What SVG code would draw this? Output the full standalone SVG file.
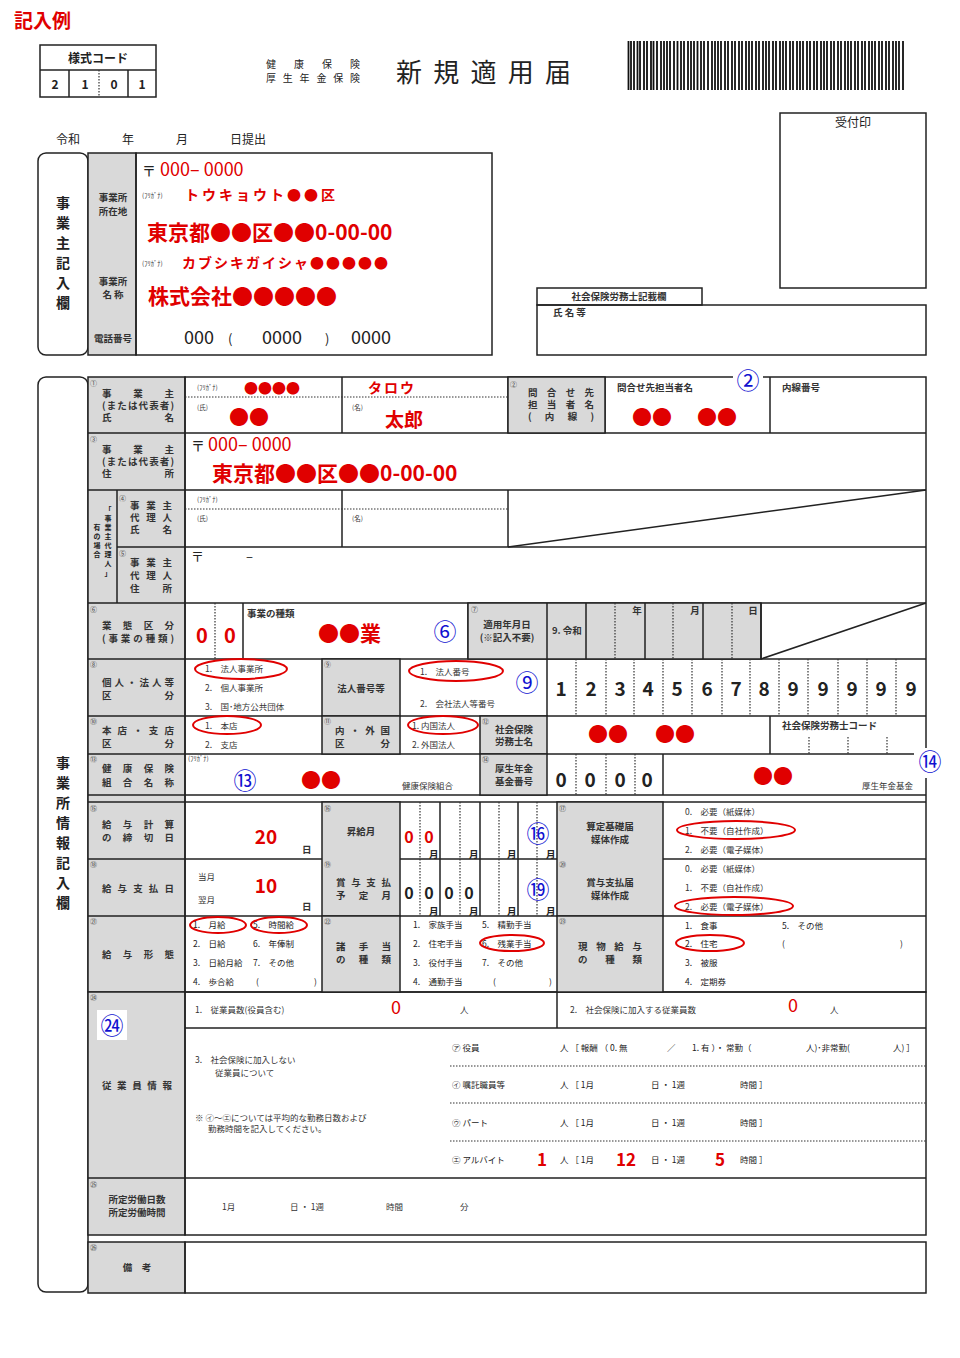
<svg xmlns="http://www.w3.org/2000/svg" width="960" height="1358" viewBox="0 0 960 1358">
<style>
text{font-family:"Noto Sans CJK JP","Noto Sans",sans-serif;fill:#222}
.l{font-size:9.5px;font-weight:bold;fill:#333}
.m{text-anchor:middle}
.n{font-size:7px;fill:#444}
.s{font-size:6.5px;fill:#333}
.o{font-size:8.5px;fill:#333}
.r{fill:#e00000;font-weight:bold}
.rr{fill:#e00000}
.b{fill:#1010d0;font-size:23px;text-anchor:middle}
.g{fill:#d9d9d9;stroke:#222;stroke-width:1.5}
.w{fill:#fff;stroke:#222;stroke-width:1.5}
.k{fill:none;stroke:#222;stroke-width:1.5}
.d{stroke:#333;stroke-width:1.2;stroke-dasharray:1.5 1.5;fill:none}
.e{fill:none;stroke:#e00000;stroke-width:2}
</style>
<rect width="960" height="1358" fill="#fff"/>
<text x="14" y="28" font-size="19" class="r">記入例</text>
<g id="code">
<rect x="40" y="45" width="116" height="52" class="k"/>
<line x1="40" y1="70" x2="156" y2="70" class="k"/>
<line x1="69" y1="70" x2="69" y2="97" class="k"/>
<line x1="128" y1="70" x2="128" y2="97" class="k"/>
<line x1="99" y1="70" x2="99" y2="97" class="d"/>
<text x="98" y="63" class="m" font-size="12" font-weight="bold">様式コード</text>
<text x="55" y="89" class="m" font-size="12" font-weight="bold">2</text>
<text x="85" y="89" class="m" font-size="12" font-weight="bold">1</text>
<text x="114" y="89" class="m" font-size="12" font-weight="bold">0</text>
<text x="142" y="89" class="m" font-size="12" font-weight="bold">1</text>
</g>
<text x="266" y="68" font-size="10" textLength="94" lengthAdjust="spacing">健康保険</text>
<text x="266" y="82" font-size="10" textLength="94" lengthAdjust="spacing">厚生年金保険</text>
<text x="396" y="82" font-size="26" textLength="175" lengthAdjust="spacing">新規適用届</text>
<path stroke="#111" fill="none" d="M628.5 41v49M631 41v49M634 41v49M637.5 41v49M640 41v49M644 41v49M647 41v49M651 41v49M653.5 41v49M657 41v49M661 41v49M664 41v49M667 41v49M670 41v49M674 41v49M677.5 41v49M681 41v49M684 41v49M688 41v49M691 41v49M694 41v49M697.5 41v49M701 41v49M704 41v49M708 41v49M712 41v49M715 41v49M718 41v49M721 41v49M725 41v49M728 41v49M732 41v49M735 41v49M739 41v49M742 41v49M746 41v49M749 41v49M752 41v49M756 41v49M759 41v49M763 41v49M766 41v49M769 41v49M773 41v49M776 41v49M780 41v49M783 41v49M786 41v49M790 41v49M793 41v49M797 41v49M800 41v49M803 41v49M807 41v49M810 41v49M814 41v49M817 41v49M821 41v49M824 41v49M827 41v49M831 41v49M834 41v49M838 41v49M841 41v49M845 41v49M848 41v49M851 41v49M855 41v49M858 41v49M862 41v49M865 41v49M869 41v49M872 41v49M875 41v49M879 41v49M882 41v49M886 41v49M889 41v49M893 41v49M896 41v49M899 41v49M903 41v49" stroke-width="1.8"/>
<text x="56" y="144" font-size="12">令和</text>
<text x="122" y="144" font-size="12">年</text>
<text x="176" y="144" font-size="12">月</text>
<text x="230" y="144" font-size="12">日提出</text>
<g id="stamp"><rect x="780" y="113" width="146" height="175" class="k"/><text x="853" y="127" class="m" font-size="12">受付印</text></g>
<g id="sharoushi">
<rect x="537" y="288" width="165" height="17" class="k"/><text x="619" y="300" class="m l" font-size="9">社会保険労務士記載欄</text>
<rect x="537" y="305" width="389" height="50" class="k"/><text x="553" y="316" class="l" font-size="9">氏 名 等</text>
</g>
<g id="employer">
<rect x="38" y="153" width="50" height="202" rx="8" class="k"/>
<rect x="88" y="153" width="48" height="202" class="g"/>
<rect x="136" y="153" width="356" height="202" class="k"/>
<g font-size="14" font-weight="bold" text-anchor="middle"><text x="63" y="208">事</text><text x="63" y="228">業</text><text x="63" y="248">主</text><text x="63" y="268">記</text><text x="63" y="288">入</text><text x="63" y="308">欄</text></g>
<text x="113" y="201" class="l m">事業所</text><text x="113" y="215" class="l m">所在地</text>
<text x="113" y="285" class="l m">事業所</text><text x="113" y="298" class="l m">名 称</text>
<text x="113" y="342" class="l m" font-size="9">電話番号</text>
<text x="142" y="176" font-size="14">〒</text><text x="160" y="176" font-size="18" class="rr">000–  0000</text>
<text x="142" y="198" class="s">(ﾌﾘｶﾞﾅ)</text><text x="185" y="200" font-size="14" class="r" letter-spacing="3">トウキョウト●●区</text>
<text x="147" y="240" font-size="21" class="r">東京都●●区●●0-00-00</text>
<text x="142" y="266" class="s">(ﾌﾘｶﾞﾅ)</text><text x="182" y="268" font-size="14" class="r" letter-spacing="2">カブシキガイシャ●●●●●</text>
<text x="148" y="304" font-size="21" class="r">株式会社●●●●●</text>
<g font-size="18" class="rr"><text x="184" y="344">000</text><text x="228" y="344" font-size="13">(</text><text x="262" y="344">0000</text><text x="325" y="344" font-size="13">)</text><text x="351" y="344">0000</text></g>
</g>
<g id="main-frame">
<rect x="38" y="377" width="50" height="915" rx="8" class="k"/>
<g font-size="14" font-weight="bold" text-anchor="middle"><text x="63" y="768">事</text><text x="63" y="788">業</text><text x="63" y="808">所</text><text x="63" y="828">情</text><text x="63" y="848">報</text><text x="63" y="868">記</text><text x="63" y="888">入</text><text x="63" y="908">欄</text></g>
<rect x="88" y="377" width="97" height="615" class="g"/>
<rect x="88" y="992" width="97" height="243" class="g"/>
<rect x="88" y="1242" width="97" height="51" class="g"/>
<rect x="185" y="377" width="741" height="615" class="k"/>
<rect x="185" y="992" width="741" height="243" class="k"/>
<rect x="185" y="1242" width="741" height="51" class="k"/>
<path class="k" d="M88 433H926M88 490H926M117 547H926M88 603H926M88 659H926M88 716H926M88 754H926M88 795H926M88 802H926M88 859H926M88 916H926M185 1028H926M88 1178H926"/>
</g>
<g id="row1">
<path class="k" d="M342 377V433M508 377V433M605 377V433M770 377V433"/>
<rect x="508" y="377" width="97" height="56" class="g"/>
<path class="d" d="M185 397H508"/>
<text x="90" y="386" class="n">①</text>
<text x="102" y="397" class="l" textLength="72" lengthAdjust="spacing">事業主</text>
<text x="102" y="409" class="l" font-size="8.5" textLength="72" lengthAdjust="spacing">(または代表者)</text>
<text x="102" y="421" class="l" textLength="72" lengthAdjust="spacing">氏　　　名</text>
<text x="197" y="390" class="s">(ﾌﾘｶﾞﾅ)</text><text x="244" y="393" font-size="14" class="rr">●●●●</text>
<text x="368" y="393" font-size="14" class="r" letter-spacing="2">タロウ</text>
<text x="197" y="410" class="s">(氏)</text><text x="229" y="425" font-size="20" class="rr">●●</text>
<text x="352" y="410" class="s">(名)</text><text x="385" y="427" font-size="19" class="r">太郎</text>
<text x="510" y="387" class="n">②</text>
<text x="528" y="396" class="l" textLength="66" lengthAdjust="spacing">問合せ先</text>
<text x="528" y="408" class="l" textLength="66" lengthAdjust="spacing">担当者名</text>
<text x="528" y="420" class="l" textLength="66" lengthAdjust="spacing">(内線)</text>
<text x="617" y="391" class="l">問合せ先担当者名</text>
<text x="632" y="425" font-size="20" class="rr">●●</text><text x="697" y="425" font-size="20" class="rr">●●</text>
<rect x="733" y="372" width="30" height="10" fill="#fff"/>
<text x="748" y="389" class="b">②</text>
<text x="782" y="391" class="l">内線番号</text>
</g>
<g id="row3">
<text x="90" y="442" class="n">③</text>
<text x="102" y="453" class="l" textLength="72" lengthAdjust="spacing">事業主</text>
<text x="102" y="465" class="l" font-size="8.5" textLength="72" lengthAdjust="spacing">(または代表者)</text>
<text x="102" y="477" class="l" textLength="72" lengthAdjust="spacing">住　　　所</text>
<text x="191" y="451" font-size="14">〒</text><text x="208" y="451" font-size="18" class="rr">000–  0000</text>
<text x="212" y="481" font-size="21" class="r">東京都●●区●●0-00-00</text>
</g>
<g id="row4-5">
<path class="k" d="M117 490V603M342 490V547M508 490V547M508 547L926 490"/>
<path class="d" d="M185 509H508"/>
<g class="n" text-anchor="middle" font-size="7" font-weight="bold"><text x="108" y="512">「</text><text x="108" y="521">事</text><text x="108" y="530">業</text><text x="108" y="539">主</text><text x="108" y="548">代</text><text x="108" y="557">理</text><text x="108" y="566">人</text><text x="108" y="576">」</text><text x="97" y="530">有</text><text x="97" y="539">の</text><text x="97" y="548">場</text><text x="97" y="557">合</text></g>
<text x="119" y="501" class="n">④</text>
<text x="130" y="509" class="l" textLength="42" lengthAdjust="spacing">事業主</text>
<text x="130" y="521" class="l" textLength="42" lengthAdjust="spacing">代理人</text>
<text x="130" y="533" class="l" textLength="42" lengthAdjust="spacing">氏　名</text>
<text x="119" y="556" class="n">⑤</text>
<text x="130" y="566" class="l" textLength="42" lengthAdjust="spacing">事業主</text>
<text x="130" y="579" class="l" textLength="42" lengthAdjust="spacing">代理人</text>
<text x="130" y="592" class="l" textLength="42" lengthAdjust="spacing">住　所</text>
<text x="197" y="502" class="s">(ﾌﾘｶﾞﾅ)</text><text x="197" y="521" class="s">(氏)</text><text x="352" y="521" class="s">(名)</text>
<text x="191" y="561" font-size="13">〒</text><text x="246" y="561" font-size="13">–</text>
</g>
<g id="row6">
<path class="k" d="M243 603V659M468 603V659"/><path class="d" d="M215 603V659"/>
<rect x="468" y="603" width="293" height="56" class="g"/>
<path class="k" d="M547 603V659M586 603V659M645 603V659M703 603V659M761 603V659M761 659L926 603"/>
<path class="d" d="M615 603V659M673 603V659M732 603V659"/>
<text x="90" y="612" class="n">⑥</text>
<text x="102" y="629" class="l" textLength="72" lengthAdjust="spacing">業態区分</text>
<text x="102" y="642" class="l" font-size="8.5" textLength="72" lengthAdjust="spacing">(事業の種類)</text>
<text x="202" y="643" font-size="20" class="r m">0</text><text x="230" y="643" font-size="20" class="r m">0</text>
<text x="247" y="617" class="l">事業の種類</text>
<text x="318" y="641" font-size="21" class="r">●●業</text>
<text x="445" y="640" class="b">⑥</text>
<text x="471" y="612" class="n">⑦</text>
<text x="507" y="628" class="l m">適用年月日</text><text x="507" y="641" class="l m">(※記入不要)</text>
<text x="552" y="634" class="l" font-size="7.5">9. 令和</text>
<text x="637" y="614" class="l m">年</text><text x="695" y="614" class="l m">月</text><text x="753" y="614" class="l m">日</text>
</g>
<g id="row8">
<rect x="322" y="659" width="78" height="57" class="g"/>
<path class="k" d="M547 659V716"/>
<path class="d" d="M576 659V716M606 659V716M634 659V716M663 659V716M692 659V716M722 659V716M750 659V716M779 659V716M808 659V716M838 659V716M867 659V716M896 659V716"/>
<text x="90" y="667" class="n">⑧</text>
<text x="102" y="686" class="l" textLength="72" lengthAdjust="spacing">個人・法人等</text>
<text x="102" y="699" class="l" textLength="72" lengthAdjust="spacing">区　　　分</text>
<text x="205" y="672" class="o">1.　法人事業所</text><text x="205" y="691" class="o">2.　個人事業所</text><text x="205" y="710" class="o">3.　国･地方公共団体</text>
<text x="324" y="667" class="n">⑨</text><text x="361" y="692" class="l m">法人番号等</text>
<text x="420" y="675" class="o">1.　法人番号</text><text x="420" y="707" class="o">2.　会社法人等番号</text>
<text x="527" y="691" class="b">⑨</text>
<g font-size="19" class="r" text-anchor="middle"><text x="561" y="696">1</text><text x="591" y="696">2</text><text x="620" y="696">3</text><text x="648" y="696">4</text><text x="677" y="696">5</text><text x="707" y="696">6</text><text x="736" y="696">7</text><text x="764" y="696">8</text><text x="793" y="696">9</text><text x="823" y="696">9</text><text x="852" y="696">9</text><text x="881" y="696">9</text><text x="911" y="696">9</text></g>
<ellipse cx="241" cy="669" rx="46" ry="10" class="e"/><ellipse cx="456" cy="671" rx="47" ry="10" class="e"/>
</g>
<g id="row10">
<rect x="322" y="716" width="78" height="38" class="g"/><rect x="480" y="716" width="67" height="38" class="g"/>
<path class="k" d="M770 716V754"/>
<path class="d" d="M809 737V754M848 737V754M887 737V754"/>
<text x="90" y="724" class="n">⑩</text>
<text x="102" y="734" class="l" textLength="72" lengthAdjust="spacing">本店・支店</text>
<text x="102" y="747" class="l" textLength="72" lengthAdjust="spacing">区　　　分</text>
<text x="205" y="729" class="o">1.　本店</text><text x="205" y="748" class="o">2.　支店</text>
<text x="324" y="724" class="n">⑪</text>
<text x="335" y="734" class="l" textLength="55" lengthAdjust="spacing">内・外国</text>
<text x="335" y="747" class="l" textLength="55" lengthAdjust="spacing">区　分</text>
<text x="412" y="729" class="o">1. 内国法人</text><text x="412" y="748" class="o">2. 外国法人</text>
<text x="482" y="724" class="n">⑫</text>
<text x="514" y="733" class="l m" font-size="9">社会保険</text><text x="514" y="745" class="l m" font-size="9">労務士名</text>
<text x="588" y="742" font-size="20" class="rr">●●</text><text x="655" y="742" font-size="20" class="rr">●●</text>
<text x="782" y="729" class="l" font-size="9">社会保険労務士コード</text>
<ellipse cx="227" cy="725" rx="34" ry="9" class="e"/><ellipse cx="443" cy="725" rx="35" ry="9" class="e"/>
</g>
<g id="row13">
<rect x="480" y="754" width="67" height="41" class="g"/>
<path class="k" d="M663 754V795"/>
<path class="d" d="M576 754V795M606 754V795M635 754V795"/>
<rect x="914" y="748" width="14" height="30" fill="#fff"/>
<text x="90" y="762" class="n">⑬</text>
<text x="102" y="772" class="l" textLength="72" lengthAdjust="spacing">健康保険</text>
<text x="102" y="786" class="l" textLength="72" lengthAdjust="spacing">組合名称</text>
<text x="188" y="761" class="s">(ﾌﾘｶﾞﾅ)</text>
<text x="245" y="789" class="b">⑬</text>
<text x="301" y="788" font-size="20" class="rr">●●</text>
<text x="402" y="789" class="o">健康保険組合</text>
<text x="482" y="762" class="n">⑭</text>
<text x="514" y="772" class="l m" font-size="9">厚生年金</text><text x="514" y="785" class="l m" font-size="9">基金番号</text>
<g font-size="19" class="r" text-anchor="middle"><text x="561" y="787">0</text><text x="590" y="787">0</text><text x="620" y="787">0</text><text x="647" y="787">0</text></g>
<text x="753" y="784" font-size="20" class="rr">●●</text>
<text x="862" y="789" class="o">厚生年金基金</text>
<text x="930" y="770" class="b">⑭</text>
</g>
<g id="row15-18">
<rect x="322" y="802" width="78" height="114" class="g"/><rect x="557" y="802" width="106" height="114" class="g"/>
<path class="k" d="M440 802V916M480 802V916M518 802V916"/>
<path class="d" d="M420 802V916M460 802V916M499 802V916M537 802V916"/>
<text x="90" y="811" class="n">⑮</text>
<text x="102" y="828" class="l" textLength="72" lengthAdjust="spacing">給与計算</text>
<text x="102" y="841" class="l" textLength="72" lengthAdjust="spacing">の締切日</text>
<text x="266" y="844" font-size="19" class="r m">20</text><text x="302" y="853" class="l">日</text>
<text x="324" y="811" class="n">⑯</text><text x="361" y="835" class="l m">昇給月</text>
<text x="409" y="843" font-size="16" class="r m">0</text><text x="429" y="843" font-size="16" class="r m">0</text>
<g class="l" font-size="7.5"><text x="429" y="858">月</text><text x="469" y="858">月</text><text x="507" y="858">月</text><text x="546" y="858">月</text><text x="429" y="915">月</text><text x="469" y="915">月</text><text x="507" y="915">月</text><text x="546" y="915">月</text></g>
<text x="538" y="842" class="b">⑯</text>
<text x="559" y="811" class="n">⑰</text>
<text x="610" y="830" class="l m">算定基礎届</text><text x="610" y="843" class="l m">媒体作成</text>
<text x="685" y="815" class="o">0.　必要（紙媒体）</text><text x="685" y="834" class="o">1.　不要（自社作成）</text><text x="685" y="853" class="o">2.　必要（電子媒体）</text>
<text x="90" y="867" class="n">⑱</text>
<text x="102" y="892" class="l" textLength="72" lengthAdjust="spacing">給与支払日</text>
<text x="198" y="880" class="o">当月</text><text x="198" y="903" class="o">翌月</text>
<text x="266" y="893" font-size="19" class="r m">10</text><text x="302" y="910" class="l">日</text>
<text x="324" y="867" class="n">⑲</text>
<text x="336" y="886" class="l" textLength="55" lengthAdjust="spacing">賞与支払</text>
<text x="336" y="899" class="l" textLength="55" lengthAdjust="spacing">予　定　月</text>
<g font-size="16" class="r" text-anchor="middle"><text x="409" y="899">0</text><text x="429" y="899">0</text><text x="449" y="899">0</text><text x="469" y="899">0</text></g>
<text x="538" y="898" class="b">⑲</text>
<text x="559" y="867" class="n">⑳</text>
<text x="610" y="886" class="l m">賞与支払届</text><text x="610" y="899" class="l m">媒体作成</text>
<text x="685" y="872" class="o">0.　必要（紙媒体）</text><text x="685" y="891" class="o">1.　不要（自社作成）</text><text x="685" y="910" class="o">2.　必要（電子媒体）</text>
<ellipse cx="736" cy="830" rx="59" ry="9" class="e"/><ellipse cx="734" cy="906" rx="59" ry="9" class="e"/>
</g>
<g id="row21">
<rect x="322" y="916" width="78" height="76" class="g"/><rect x="557" y="916" width="106" height="76" class="g"/>
<text x="90" y="924" class="n">㉑</text>
<text x="102" y="958" class="l" textLength="72" lengthAdjust="spacing">給与形態</text>
<g class="o" font-size="8"><text x="193" y="928">1.　月給</text><text x="193" y="947">2.　日給</text><text x="193" y="966">3.　日給月給</text><text x="193" y="985">4.　歩合給</text>
<text x="253" y="928">5.　時間給</text><text x="253" y="947">6.　年俸制</text><text x="253" y="966">7.　その他</text><text x="256" y="985">(</text><text x="314" y="985">)</text>
<text x="413" y="928">1.　家族手当</text><text x="413" y="947">2.　住宅手当</text><text x="413" y="966">3.　役付手当</text><text x="413" y="985">4.　通勤手当</text>
<text x="482" y="928">5.　精勤手当</text><text x="482" y="947">6.　残業手当</text><text x="482" y="966">7.　その他</text><text x="493" y="985">(</text><text x="549" y="985">)</text>
<text x="685" y="929">1.　食事</text><text x="685" y="947">2.　住宅</text><text x="685" y="966">3.　被服</text><text x="685" y="985">4.　定期券</text>
<text x="782" y="929">5.　その他</text><text x="782" y="947">(</text><text x="900" y="947">)</text></g>
<text x="324" y="924" class="n">㉒</text>
<text x="336" y="950" class="l" textLength="55" lengthAdjust="spacing">諸手当</text>
<text x="336" y="963" class="l" textLength="55" lengthAdjust="spacing">の種類</text>
<text x="559" y="924" class="n">㉓</text>
<text x="578" y="950" class="l" textLength="64" lengthAdjust="spacing">現物給与</text>
<text x="578" y="963" class="l" textLength="64" lengthAdjust="spacing">の　種　類</text>
<ellipse cx="218" cy="925" rx="28" ry="8" class="e"/><ellipse cx="279" cy="925" rx="28" ry="8" class="e"/>
<ellipse cx="512" cy="943" rx="32" ry="8" class="e"/><ellipse cx="710" cy="943" rx="34" ry="8" class="e"/>
</g>
<g id="row24">
<path class="k" d="M557 992V1028"/>
<path class="d" d="M450 1066H926M450 1103H926M450 1141H926"/>
<text x="90" y="1000" class="n">㉔</text>
<rect x="97" y="1010" width="30" height="30" fill="#fff"/><text x="112" y="1034" class="b">㉔</text>
<text x="102" y="1089" class="l" textLength="70" lengthAdjust="spacing">従業員情報</text>
<text x="195" y="1013" class="o">1.　従業員数(役員含む)</text><text x="396" y="1014" font-size="18" class="rr m">0</text><text x="460" y="1013" class="o">人</text>
<text x="570" y="1013" class="o">2.　社会保険に加入する従業員数</text><text x="793" y="1012" font-size="18" class="rr m">0</text><text x="830" y="1013" class="o">人</text>
<text x="195" y="1063" class="o">3.　社会保険に加入しない</text><text x="215" y="1076" class="o">従業員について</text>
<text x="195" y="1121" class="o" font-size="7.5">※ ㋑～㋓については平均的な勤務日数および</text><text x="208" y="1132" class="o" font-size="7.5">勤務時間を記入してください。</text>
<g class="o"><text x="452" y="1051">㋐ 役員</text><text x="560" y="1051">人 ［ 報酬 （ 0. 無</text><text x="667" y="1051">／</text><text x="692" y="1051">1. 有 ）・ 常勤（</text><text x="806" y="1051">人)･非常勤(</text><text x="893" y="1051">人) ］</text>
<text x="452" y="1088">㋑ 嘱託職員等</text><text x="560" y="1088">人 ［ 1月</text><text x="651" y="1088">日 ・ 1週</text><text x="740" y="1088">時間 ］</text>
<text x="452" y="1126">㋒ パート</text><text x="560" y="1126">人 ［ 1月</text><text x="651" y="1126">日 ・ 1週</text><text x="740" y="1126">時間 ］</text>
<text x="452" y="1163">㋓ アルバイト</text><text x="560" y="1163">人 ［ 1月</text><text x="651" y="1163">日 ・ 1週</text><text x="740" y="1163">時間 ］</text></g>
<text x="542" y="1166" font-size="17" class="r m">1</text><text x="626" y="1166" font-size="17" class="r m">12</text><text x="720" y="1166" font-size="17" class="r m">5</text>
</g>
<g id="row25">
<text x="90" y="1187" class="n">㉕</text>
<text x="137" y="1203" class="l m">所定労働日数</text><text x="137" y="1216" class="l m">所定労働時間</text>
<text x="222" y="1210" class="o">1月</text><text x="290" y="1210" class="o">日 ・ 1週</text><text x="386" y="1210" class="o">時間</text><text x="460" y="1210" class="o">分</text>
</g>
<g id="row26">
<text x="90" y="1250" class="n">㉖</text>
<text x="137" y="1271" class="l m">備　考</text>
</g>
</svg>
